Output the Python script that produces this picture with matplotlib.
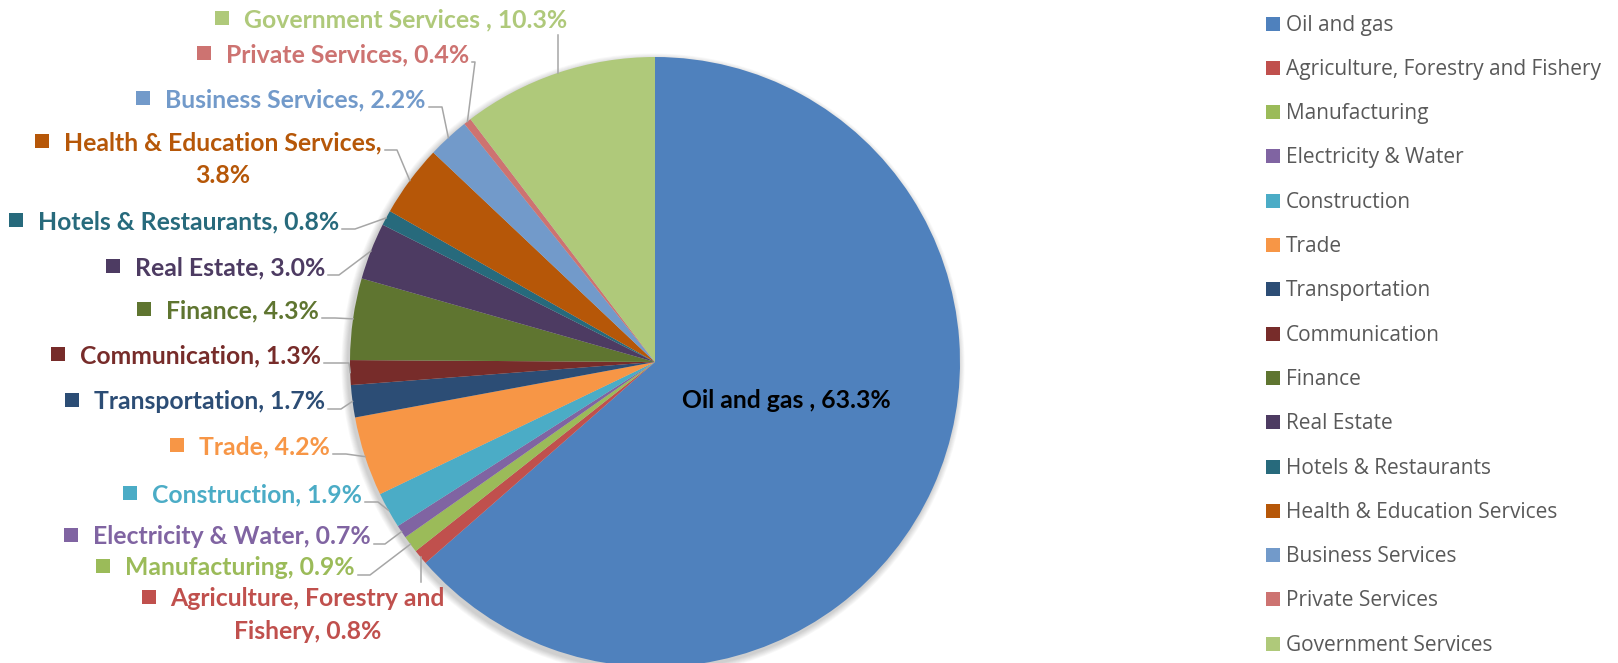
import numpy as np
import matplotlib.pyplot as plt
from matplotlib.patches import Rectangle, Circle

# ---- data ----
sectors = ["Oil and gas", "Agriculture, Forestry and Fishery", "Manufacturing",
           "Electricity & Water", "Construction", "Trade", "Transportation",
           "Communication", "Finance", "Real Estate", "Hotels & Restaurants",
           "Health & Education Services", "Business Services", "Private Services",
           "Government Services"]
shares = [63.3, 0.8, 0.9, 0.7, 1.9, 4.2, 1.7, 1.3, 4.3, 3.0, 0.8, 3.8, 2.2, 0.4, 10.3]
colors = ["#4F81BD", "#C0504D", "#9BBB59", "#8064A2", "#4BACC6", "#F79646",
          "#2C4D75", "#772C2A", "#5F7530", "#4D3B62", "#276A7C", "#B65708",
          "#729ACA", "#CD7371", "#AFC97A"]

# ---- layout (pixels, y down) ----
W, H = 1618, 663
cx, cy, R = 655, 362, 305
# right end of first label line and its baseline, per sector (0 = inside pie)
lab_x = [None, 445, 355, 371, 362, 330, 325, 321, 319, 325, 339, 382, 426, 469, 567]
lab_y = [None, 606, 575, 544, 502, 454, 409, 363, 318, 275, 229, 150, 107, 62, 27]
elbow = [0, 0, 12, 11, 13, 13, 13, 25, 13, 11, 13, 12, 13, 3, 0]
line_breaks = {1: "and ", 11: "Services, "}
label_font = "Lato"
fs_lab = 17.8

fig = plt.figure(figsize=(W / 100, H / 100), dpi=100)
ax = fig.add_axes([0, 0, 1, 1])

# soft shadow under the pie
for k in range(8):
    ax.add_patch(Circle((cx - 2, cy + 3), R + 1 + k * 0.8, color="#000000",
                        alpha=0.025, lw=0, zorder=0))

wedges, _ = ax.pie(shares, colors=colors, startangle=270, counterclock=True,
                   center=(cx, cy), radius=R, wedgeprops=dict(linewidth=0))
ax.set_xlim(0, W)
ax.set_ylim(H, 0)
ax.set_aspect("equal")
ax.axis("off")

def make_label(i):
    sep = " , " if i in (0, 14) else ", "
    txt = f"{sectors[i]}{sep}{shares[i]:.1f}%"
    if i in line_breaks:
        k = line_breaks[i]
        txt = txt.replace(k, k.rstrip() + "\n", 1)
    return txt.split("\n")

ax.text(786, 408, make_label(0)[0], ha="center", va="baseline", color="black",
        fontsize=fs_lab, fontweight="bold", family=label_font)

fig.canvas.draw()
rend = fig.canvas.get_renderer()
inv = ax.transData.inverted()

for i in range(1, len(shares)):
    lines = make_label(i)
    t = ax.text(lab_x[i], lab_y[i], lines[0], ha="right", va="baseline",
                color=colors[i], fontsize=fs_lab, fontweight="bold", family=label_font)
    bb = t.get_window_extent(rend).transformed(inv)
    x0, x1 = min(bb.x0, bb.x1), max(bb.x0, bb.x1)
    ax.add_patch(Rectangle((x0 - 29, lab_y[i] - 16), 14, 14, color=colors[i], lw=0))
    if len(lines) > 1:
        ax.text((x0 + x1) / 2, lab_y[i] + 33, lines[1], ha="center", va="baseline",
                color=colors[i], fontsize=fs_lab, fontweight="bold", family=label_font)

    # leader line to the slice edge
    w = wedges[i]
    mid = np.deg2rad((w.theta1 + w.theta2) / 2)
    ex, ey = cx + R * np.cos(mid), cy + R * np.sin(mid)
    if i == 14:
        pts = [(ex, 35), (ex, ey)]
    elif i == 1:
        pts = [(ex, 582), (ex, ey)]
    else:
        xs = lab_x[i] + 3
        pts = [(xs, lab_y[i]), (xs + elbow[i], lab_y[i]), (ex, ey)]
    px, py = zip(*pts)
    ax.plot(px, py, color="#A6A6A6", lw=1.1, zorder=1)

# legend
for i, name in enumerate(sectors):
    yc = 23.5 + 44.3 * i
    ax.add_patch(Rectangle((1266, yc - 7), 14, 14, color=colors[i], lw=0))
    ax.text(1286, yc + 7, name, ha="left", va="baseline", color="#595959",
            fontsize=15, family="Open Sans")

plt.savefig("out.png", dpi=100)
